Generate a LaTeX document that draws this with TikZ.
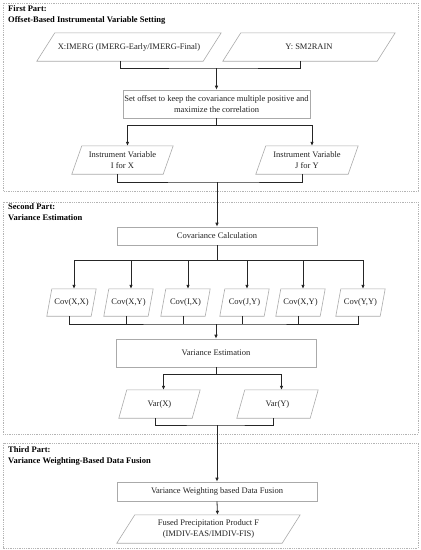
\documentclass[tikz,border=0pt]{standalone}
\usepackage{fontspec}
\setmainfont{Liberation Serif}
\usetikzlibrary{arrows.meta,calc}
\definecolor{txt}{HTML}{222222}
\definecolor{boxc}{HTML}{AAAAAA}
\definecolor{framec}{HTML}{B4B4B4}
\newcommand\para[2]{\draw[pbox] ($(#1.north west)+(#2,0)$) -- (#1.north east) -- ($(#1.south east)-(#2,0)$) -- (#1.south west) -- cycle;}
\begin{document}
\begin{tikzpicture}[x=1pt,y=-1pt,
  frame/.style={draw=framec,densely dotted,line width=0.8pt},
  title/.style={anchor=north west,inner sep=0pt,align=left,text=black,font=\fontsize{8.5}{11}\selectfont\bfseries},
  rbox/.style={draw=boxc,line width=0.6pt,inner sep=0pt,align=center,text=txt,font=\fontsize{8.5}{11}\selectfont},
  ptext/.style={inner sep=0pt,align=center,text=txt,font=\fontsize{8.5}{11}\selectfont},
  pbox/.style={draw=boxc,line width=0.6pt},
  line/.style={draw=black!85,line width=0.8pt},
  arr/.style={line,-{Latex[length=4pt,width=3.6pt]}}]
\useasboundingbox (0,0) rectangle (421,550);
% frames
\draw[frame] (3,3) rectangle (418,191);
\draw[frame] (3,202) rectangle (418,434);
\draw[frame] (3,443) rectangle (418,548);
\node[title] (t1) at (8,5) {First Part:\\Offset-Based Instrumental Variable Setting};
\node[title] (t2) at (8,203) {Second Part:\\Variance Estimation};
\node[title] (t3) at (8,446) {Third Part:\\Variance Weighting-Based Data Fusion};
% first part
\node[ptext,minimum width=184,minimum height=28] (X) at (129,47) {X:IMERG (IMERG-Early/IMERG-Final)};
\node[ptext,minimum width=172,minimum height=28] (Y) at (309,47) {Y: SM2RAIN};
\para{X}{18}\para{Y}{18}
\node[rbox,minimum width=187,minimum height=28] (S) at (216.5,104) {Set offset to keep the covariance multiple positive and\\maximize the correlation};
\node[ptext,minimum width=101,minimum height=28] (I) at (122.5,160) {Instrument Variable\\I for X};
\node[ptext,minimum width=102,minimum height=28] (J) at (307,160) {Instrument Variable\\J for Y};
\para{I}{10}\para{J}{10}
% second part
\node[rbox,minimum width=200,minimum height=18] (CC) at (217,236) {Covariance Calculation};
\foreach \n/\x/\t in {c1/71.5/{Cov(X,X)},c2/128.5/{Cov(X,Y)},c3/185.5/{Cov(I,X)},c4/244.5/{Cov(J,Y)},c5/300.5/{Cov(X,Y)},c6/360.5/{Cov(Y,Y)}}{
  \node[ptext,minimum width=49,minimum height=27] (\n) at (\x,302.5) {\t};
  \para{\n}{5}
}
\node[rbox,minimum width=200,minimum height=28] (VE) at (216,353) {Variance Estimation};
\node[ptext,minimum width=81,minimum height=28] (VX) at (159.5,404) {Var(X)};
\node[ptext,minimum width=81,minimum height=28] (VY) at (277.5,404) {Var(Y)};
\para{VX}{8}\para{VY}{8}
% third part
\node[rbox,minimum width=200,minimum height=19] (VW) at (217,491.5) {Variance Weighting based Data Fusion};
\node[ptext,minimum width=183,minimum height=28] (F) at (208.5,529) {Fused Precipitation Product F\\(IMDIV-EAS/IMDIV-FIS)};
\para{F}{18}
% connectors
\coordinate (j1) at (S.north |- 0,68);
\draw[line] ($(X.south)+(-9,0)$) |- (j1) -| ($(Y.south)+(-9,0)$);
\draw[arr] (j1) -- (S.north);
\coordinate (j2) at (S.south |- 0,125);
\draw[line] (S.south) -- (j2);
\draw[arr] (j2) -| ($(I.north)+(5,0)$);
\draw[arr] (j2) -| ($(J.north)+(5,0)$);
\coordinate (j3) at (CC.north |- 0,182);
\draw[line] ($(I.south)+(-5,0)$) |- (j3) -| ($(J.south)+(-5,0)$);
\draw[arr] (j3) -- (CC.north);
\coordinate (j4) at (CC.south |- 0,260);
\draw[line] (CC.south) -- (j4);
\foreach \n in {c1,c2,c3,c4,c5,c6}{\draw[arr] (j4) -| ($(\n.north)+(2.5,0)$);}
\coordinate (j5) at (VE.north |- 0,324);
\draw[line] ($(c1.south)+(-2.5,0)$) |- (j5) -| ($(c6.south)+(-2.5,0)$);
\foreach \n in {c2,c3,c4,c5}{\draw[line] ($(\n.south)+(-2.5,0)$) -- ($(\n.south)+(-2.5,7.5)$);}
\draw[arr] (j5) -- (VE.north);
\coordinate (j6) at (VE.south |- 0,374);
\draw[line] (VE.south) -- (j6);
\draw[arr] (j6) -| ($(VX.north)+(4,0)$);
\draw[arr] (j6) -| ($(VY.north)+(4,0)$);
\coordinate (j7) at (VW.north |- 0,425);
\draw[line] ($(VX.south)+(-4,0)$) |- (j7) -| ($(VY.south)+(-4,0)$);
\draw[arr] (j7) -- (VW.north);
\draw[arr] (VW.south) -- ($(F.north)+(9,0)$);
\end{tikzpicture}
\end{document}
